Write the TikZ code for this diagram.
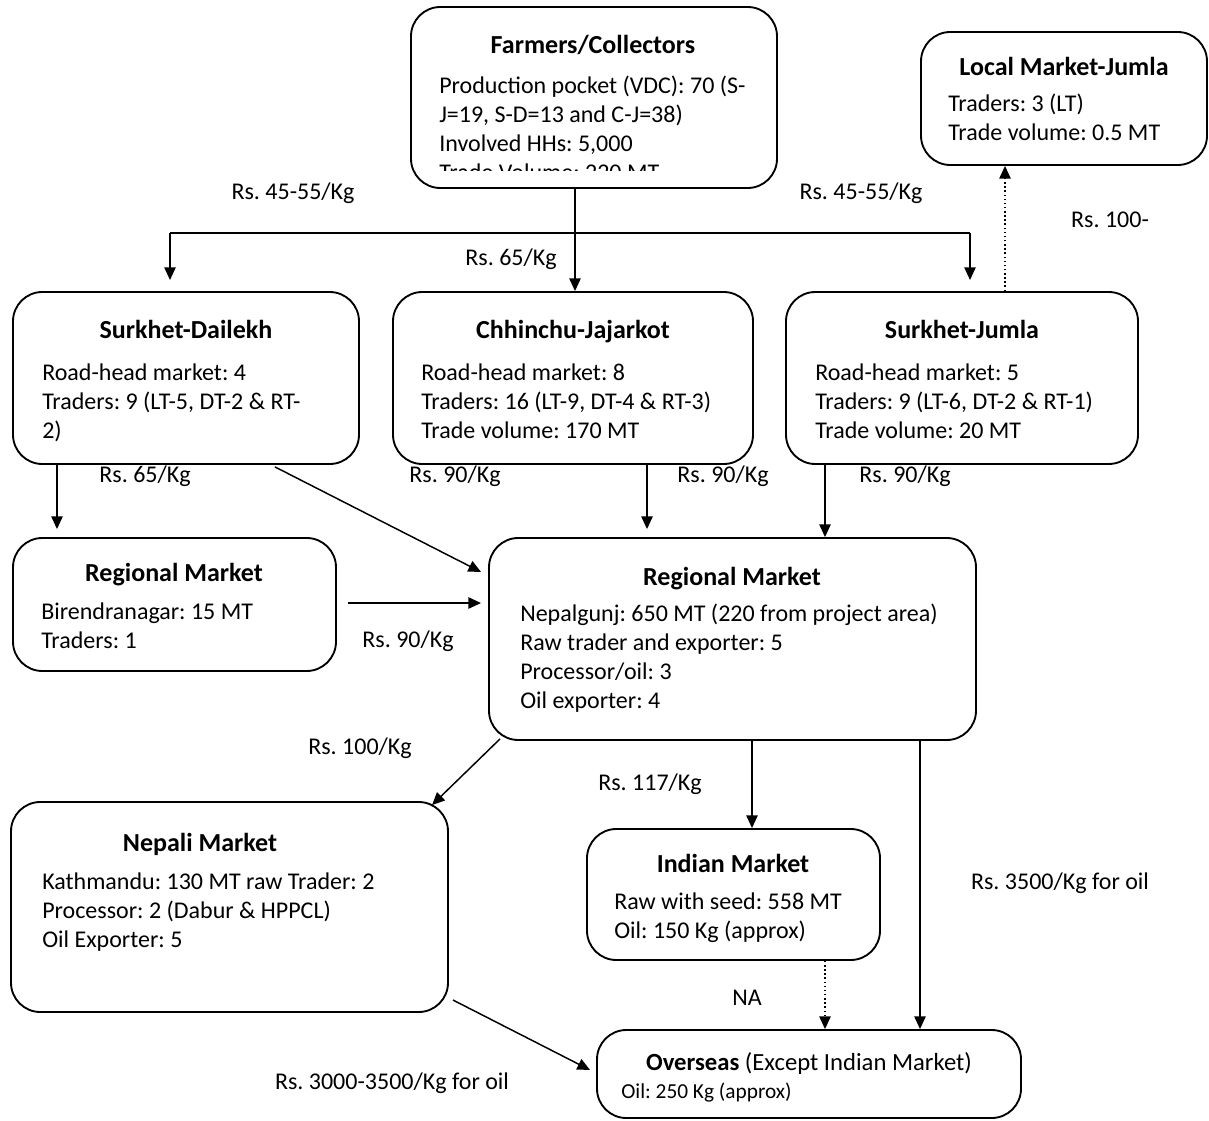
\documentclass[tikz,border=0pt]{standalone}
\usepackage{fontspec}
\setmainfont{Carlito}
\usetikzlibrary{arrows.meta,calc}
\begin{document}
\frenchspacing
\begin{tikzpicture}[x=0.75pt,y=-0.75pt,
  box/.style={draw, line width=1.4pt, rounded corners=22pt, inner sep=0pt},
  ttl/.style={font=\fontsize{19.5}{21.75}\selectfont\bfseries, inner sep=0pt, text height=0.68em, text depth=0pt, yshift=-3.2pt},
  body/.style={font=\fontsize{18}{21.75}\selectfont, align=left, anchor=north west, inner sep=0pt},
  lbl/.style={font=\fontsize{18}{21.75}\selectfont, inner sep=0pt, text height=0.68em, text depth=0pt, yshift=-2.4pt},
  arr/.style={line width=1.1pt, -{Triangle[length=9.5pt,width=8.5pt]}},
  dotarr/.style={line width=1.1pt, dotted, -{Triangle[length=9.5pt,width=8.5pt]}}]
\useasboundingbox (0,0) rectangle (1209,1120);
% boxes
\node[box, minimum width=274.5pt, minimum height=135.75pt] (fc) at (594,97.5) {};
\node[box, minimum width=214.5pt, minimum height=99.75pt] (lmj) at (1064,98.5) {};
\node[box, minimum width=259.5pt, minimum height=129pt] (sd) at (186,378) {};
\node[box, minimum width=270pt, minimum height=129pt] (cj) at (573,378) {};
\node[box, minimum width=264pt, minimum height=129pt] (sj) at (962,378) {};
\node[box, minimum width=242.25pt, minimum height=99.75pt] (rb) at (174.5,604.5) {};
\node[box, minimum width=365.25pt, minimum height=151.5pt] (rn) at (732.5,639) {};
\node[box, minimum width=327.75pt, minimum height=157.5pt] (nm) at (229.5,907) {};
\node[box, minimum width=219.75pt, minimum height=98.25pt] (im) at (733.5,894.5) {};
\node[box, minimum width=318pt, minimum height=66pt] (ov) at (809,1074) {};
% texts
\node[ttl] (fct) at (593,45) {Farmers/Collectors};
\begin{scope}
\clip (411,7) rectangle (777,171);
\node[body] (fcb) at (439,76) {Production pocket (VDC): 70 (S-\\J=19, S-D=13 and C-J=38)\\Involved HHs: 5,000\\Trade Volume: 220 MT};
\end{scope}
\node[ttl] (lmjt) at (1064,67) {Local Market-Jumla};
\node[body] (lmjb) at (948,94) {Traders: 3 (LT)\\Trade volume: 0.5 MT};
\node[ttl] (sdt) at (186,330) {Surkhet-Dailekh};
\node[body] (sdb) at (42,364) {Road-head market: 4\\Traders: 9 (LT-5, DT-2 \& RT-\\2)};
\node[ttl] (cjt) at (573,330) {Chhinchu-Jajarkot};
\node[body] (cjb) at (421,364) {Road-head market: 8\\Traders: 16 (LT-9, DT-4 \& RT-3)\\Trade volume: 170 MT};
\node[ttl] (sjt) at (962,330) {Surkhet-Jumla};
\node[body] (sjb) at (815,364) {Road-head market: 5\\Traders: 9 (LT-6, DT-2 \& RT-1)\\Trade volume: 20 MT};
\node[ttl] (rbt) at (174,573) {Regional Market};
\node[body] (rbb) at (41,603) {Birendranagar: 15 MT\\Traders: 1};
\node[ttl] (rnt) at (732,577) {Regional Market};
\node[body] (rnb) at (520,604) {Nepalgunj: 650 MT (220 from project area)\\Raw trader and exporter: 5\\Processor/oil: 3\\Oil exporter: 4};
\node[ttl] (nmt) at (200,843) {Nepali Market};
\node[body] (nmb) at (42,873) {Kathmandu: 130 MT raw Trader: 2\\Processor: 2 (Dabur \& HPPCL)\\Oil Exporter: 5};
\node[ttl] (imt) at (733,864) {Indian Market};
\node[body] (imb) at (614,893) {Raw with seed: 558 MT\\Oil: 150 Kg (approx)};
\node[lbl, font=\fontsize{18.5}{21.75}\selectfont] (ovt) at (809,1063) {\textbf{Overseas} (Except Indian Market)};
\node[body, font=\fontsize{16}{18}\selectfont] (ovb) at (621,1083) {Oil: 250 Kg (approx)};
% connectors
\draw[arr] ($(fc.south)+(-19,0)$) -- ($(cj.north)+(2,0)$);
\coordinate (jl) at (170,233);
\coordinate (jr) at (970,233);
\coordinate (jlb) at (170,280);
\coordinate (jrb) at (970,280);
\draw[line width=1.1pt] (jl) -- (jr);
\draw[arr] (jl) -- (jlb);
\draw[arr] (jr) -- (jrb);
\draw[dotarr] ($(sj.north)+(43,0)$) -- ($(lmj.south)+(-59,0)$);
\draw[arr, shorten >=6pt] ($(sd.south)+(-129,0)$) -- ($(rb.north)+(-117.5,0)$);
\draw[arr] ($(sd.south)+(89,2)$) -- ($(rn.west)+(-7,-67)$);
\draw[arr, shorten >=6pt] ($(cj.south)+(74,0)$) -- ($(rn.north)+(-85.5,0)$);
\draw[arr] ($(sj.south)+(-137,0)$) -- ($(rn.north)+(92.5,0)$);
\draw[arr] ($(rb.east)+(11,-1.5)$) -- ($(rn.west)+(-7,-36)$);
\draw[arr] ($(rn.south)+(-232.5,-2)$) -- ($(nm.north)+(202.5,4)$);
\draw[arr] ($(rn.south)+(19.5,0)$) -- ($(im.north)+(18.5,0)$);
\draw[arr] ($(rn.south)+(187.5,0)$) -- ($(ov.north)+(111,0)$);
\draw[dotarr] ($(im.south)+(91.5,0)$) -- ($(ov.north)+(16,0)$);
\draw[arr] ($(nm.east)+(4,93)$) -- ($(ov.west)+(-6,-4)$);
% labels
\node[lbl] (l1) at (293,192) {Rs. 45-55/Kg};
\node[lbl] (l2) at (861,192) {Rs. 45-55/Kg};
\node[lbl] (l3) at (511,258) {Rs. 65/Kg};
\node[lbl] (l4) at (1110,220) {Rs. 100-};
\node[lbl] (l5) at (145,475) {Rs. 65/Kg};
\node[lbl] (l6) at (455,475) {Rs. 90/Kg};
\node[lbl] (l7) at (723,475) {Rs. 90/Kg};
\node[lbl] (l8) at (905,475) {Rs. 90/Kg};
\node[lbl] (l9) at (408,640) {Rs. 90/Kg};
\node[lbl] (l10) at (360,747) {Rs. 100/Kg};
\node[lbl] (l11) at (650,783) {Rs. 117/Kg};
\node[lbl] (l12) at (1060,882) {Rs. 3500/Kg for oil};
\node[lbl] (l13) at (747,998) {NA};
\node[lbl] (l14) at (392,1082) {Rs. 3000-3500/Kg for oil};
\end{tikzpicture}
\end{document}
